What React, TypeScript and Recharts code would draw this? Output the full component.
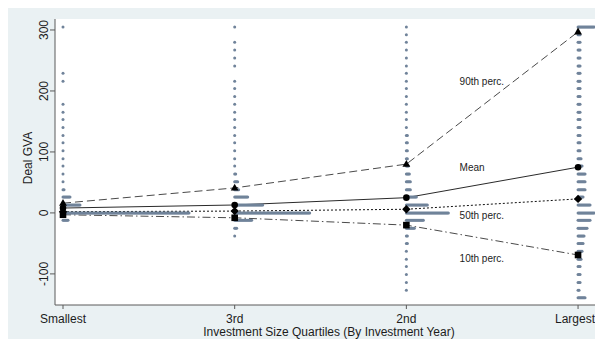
import React from 'react';
import { ComposedChart, Line, Scatter, XAxis, YAxis, CartesianGrid, Label } from 'recharts';

// Quartile groups along the horizontal axis
const CATEGORIES = ['Smallest', '3rd', '2nd', 'Largest'];

// Summary statistics of deal GVA per quartile
const P90 = [16, 41, 80, 297];
const MEAN = [8, 13, 25, 75];
const P50 = [2, 3, 6, 23];
const P10 = [-3, -8, -20, -69];

// Series annotations (placed between the 2nd and Largest quartiles)
const NOTE_TEXTS = ['90th perc.', 'Mean', '50th perc.', '10th perc.'];
const NOTE_Y = [216, 75, -5, -74];
const NOTE_X = 2.31;

const Y_TICKS = [-100, 0, 100, 200, 300];

// Dot-plot bins (deal GVA) from top to bottom
const BIN_VALUES = [
  305, 292, 280, 267, 254, 241, 229, 216, 204, 191, 178, 165, 153, 140, 127, 115, 102, 89,
  77, 64, 51, 38, 26, 13, 0, -12, -25, -38, -50, -63, -76, -88, -101, -114, -127, -139,
];

// Number of deals falling in each bin, per quartile
const COUNTS_SMALLEST = [
  1, 0, 0, 0, 0, 0, 1, 1, 0, 0, 1, 1, 1, 1, 1, 1, 1, 1,
  1, 1, 1, 2, 8, 18, 127, 6, 0, 0, 0, 0, 0, 0, 0, 0, 0, 0,
];
const COUNTS_3RD = [
  1, 0, 1, 1, 1, 1, 0, 1, 1, 1, 1, 1, 1, 1, 1, 1, 1, 1,
  1, 2, 4, 5, 14, 29, 76, 18, 3, 1, 0, 0, 0, 0, 0, 0, 0, 0,
];
const COUNTS_2ND = [
  1, 1, 1, 1, 1, 1, 1, 1, 1, 1, 1, 1, 1, 1, 2, 2, 2, 2,
  3, 4, 5, 5, 11, 22, 43, 18, 9, 2, 2, 1, 1, 1, 1, 1, 1, 0,
];
const COUNTS_LARGEST = [
  17, 3, 3, 3, 3, 3, 3, 3, 3, 3, 3, 3, 3, 3, 3, 3, 3, 4,
  5, 8, 8, 8, 6, 13, 17, 13, 10, 7, 6, 5, 4, 3, 3, 3, 2, 8,
];

const BG = '#eaf1f3';
const DOT_COLOR = '#70839a';
const DOT_STEP = 1;
const FONT = '"Liberation Sans", Arial, Helvetica, sans-serif';
const TEXT = '#1c1c1c';
const AXIS = '#5a5a5a';

const toSeries = (vals: number[]) => vals.map((y, x) => ({ x, y }));

const stripRows = [COUNTS_SMALLEST, COUNTS_3RD, COUNTS_2ND, COUNTS_LARGEST].flatMap((counts, ci) =>
  counts
    .map((n, bi) => ({ x: ci, y: BIN_VALUES[bi], n }))
    .filter((r) => r.n > 0)
);

const notes = NOTE_TEXTS.map((text, i) => ({ x: NOTE_X, y: NOTE_Y[i], text }));

// One row of the dot plot: n dots stacked to the right of the group position
function StripDots(props: any) {
  const { cx, cy, payload } = props;
  if (cx == null || cy == null) return null;
  const dots = [];
  for (let i = 0; i < payload.n; i++) {
    dots.push(<circle key={i} cx={cx + i * DOT_STEP} cy={cy} r={1.5} fill={DOT_COLOR} />);
  }
  return <g>{dots}</g>;
}

function NoteText(props: any) {
  const { cx, cy, payload } = props;
  if (cx == null || cy == null) return null;
  return (
    <text x={cx} y={cy} dy="0.35em" fontSize={10} fontFamily={FONT} fill={TEXT}>
      {payload.text}
    </text>
  );
}

const TriangleDot = (p: any) =>
  p.cx == null ? null : (
    <polygon
      key={`tri-${p.index}`}
      points={`${p.cx},${p.cy - 4.2} ${p.cx + 3.9},${p.cy + 2.6} ${p.cx - 3.9},${p.cy + 2.6}`}
      fill="#000"
    />
  );
const CircleDot = (p: any) =>
  p.cx == null ? null : <circle key={`cir-${p.index}`} cx={p.cx} cy={p.cy} r={3.3} fill="#000" />;
const DiamondDot = (p: any) =>
  p.cx == null ? null : (
    <polygon
      key={`dia-${p.index}`}
      points={`${p.cx},${p.cy - 4.2} ${p.cx + 4.2},${p.cy} ${p.cx},${p.cy + 4.2} ${p.cx - 4.2},${p.cy}`}
      fill="#000"
    />
  );
const SquareDot = (p: any) =>
  p.cx == null ? null : (
    <rect key={`sq-${p.index}`} x={p.cx - 3.3} y={p.cy - 3.3} width={6.6} height={6.6} fill="#000" />
  );

// Category labels; the last one is right-aligned so it stays inside the frame
function XTick(props: any) {
  const { x, y, payload } = props;
  const last = payload.value === CATEGORIES.length - 1;
  return (
    <text
      x={last ? x + 17 : x}
      y={y + 12}
      textAnchor={last ? 'end' : 'middle'}
      fontSize={12}
      fontFamily={FONT}
      fill={TEXT}
    >
      {CATEGORIES[payload.value]}
    </text>
  );
}

function YTick(props: any) {
  const { x, y, payload } = props;
  return (
    <text
      x={x}
      y={y}
      transform={`rotate(-90 ${x} ${y})`}
      textAnchor="middle"
      fontSize={12}
      fontFamily={FONT}
      fill={TEXT}
    >
      {payload.value}
    </text>
  );
}

export default function App() {
  return (
    <div style={{ width: 594, height: 332, marginTop: -1, background: BG }}>
      <ComposedChart width={594} height={332} margin={{ top: 12, right: 3, bottom: 0, left: 0 }}>
        <CartesianGrid fill="#ffffff" stroke="none" />
        <XAxis
          type="number"
          dataKey="x"
          domain={[-0.0466, 3.122]}
          ticks={[0, 1, 2, 3]}
          height={34}
          tickSize={4}
          stroke={AXIS}
          tick={XTick}
          interval={0}
          minTickGap={0}
        >
          <Label
            content={(p: any) => {
              const vb = p.viewBox || {};
              return (
                <text
                  x={vb.x + vb.width / 2 + 2}
                  y={vb.y + 31}
                  textAnchor="middle"
                  fontSize={12}
                  fontFamily={FONT}
                  fill={TEXT}
                >
                  Investment Size Quartiles (By Investment Year)
                </text>
              );
            }}
          />
        </XAxis>
        <YAxis
          type="number"
          domain={[-151, 318]}
          ticks={Y_TICKS}
          allowDataOverflow
          width={47}
          tickSize={5}
          stroke={AXIS}
          tick={YTick}
          interval={0}
        >
          <Label
            content={(p: any) => {
              const vb = p.viewBox || {};
              const cx = vb.x + 24;
              const cy = 151;
              return (
                <text
                  x={cx}
                  y={cy}
                  transform={`rotate(-90 ${cx} ${cy})`}
                  textAnchor="middle"
                  fontSize={12}
                  fontFamily={FONT}
                  fill={TEXT}
                >
                  Deal GVA
                </text>
              );
            }}
          />
        </YAxis>

        <Scatter data={stripRows} dataKey="y" shape={StripDots} isAnimationActive={false} legendType="none" />

        <Line
          data={toSeries(P90)}
          dataKey="y"
          stroke="#4a4a4a"
          strokeWidth={1}
          strokeDasharray="8 4"
          dot={TriangleDot}
          activeDot={false}
          isAnimationActive={false}
        />
        <Line
          data={toSeries(MEAN)}
          dataKey="y"
          stroke="#2a2a2a"
          strokeWidth={1}
          dot={CircleDot}
          activeDot={false}
          isAnimationActive={false}
        />
        <Line
          data={toSeries(P50)}
          dataKey="y"
          stroke="#111"
          strokeWidth={1}
          strokeDasharray="2 2"
          dot={DiamondDot}
          activeDot={false}
          isAnimationActive={false}
        />
        <Line
          data={toSeries(P10)}
          dataKey="y"
          stroke="#4a4a4a"
          strokeWidth={1}
          strokeDasharray="8 3 1.5 3"
          dot={SquareDot}
          activeDot={false}
          isAnimationActive={false}
        />

        <Scatter data={notes} dataKey="y" shape={NoteText} isAnimationActive={false} legendType="none" />
      </ComposedChart>
    </div>
  );
}
